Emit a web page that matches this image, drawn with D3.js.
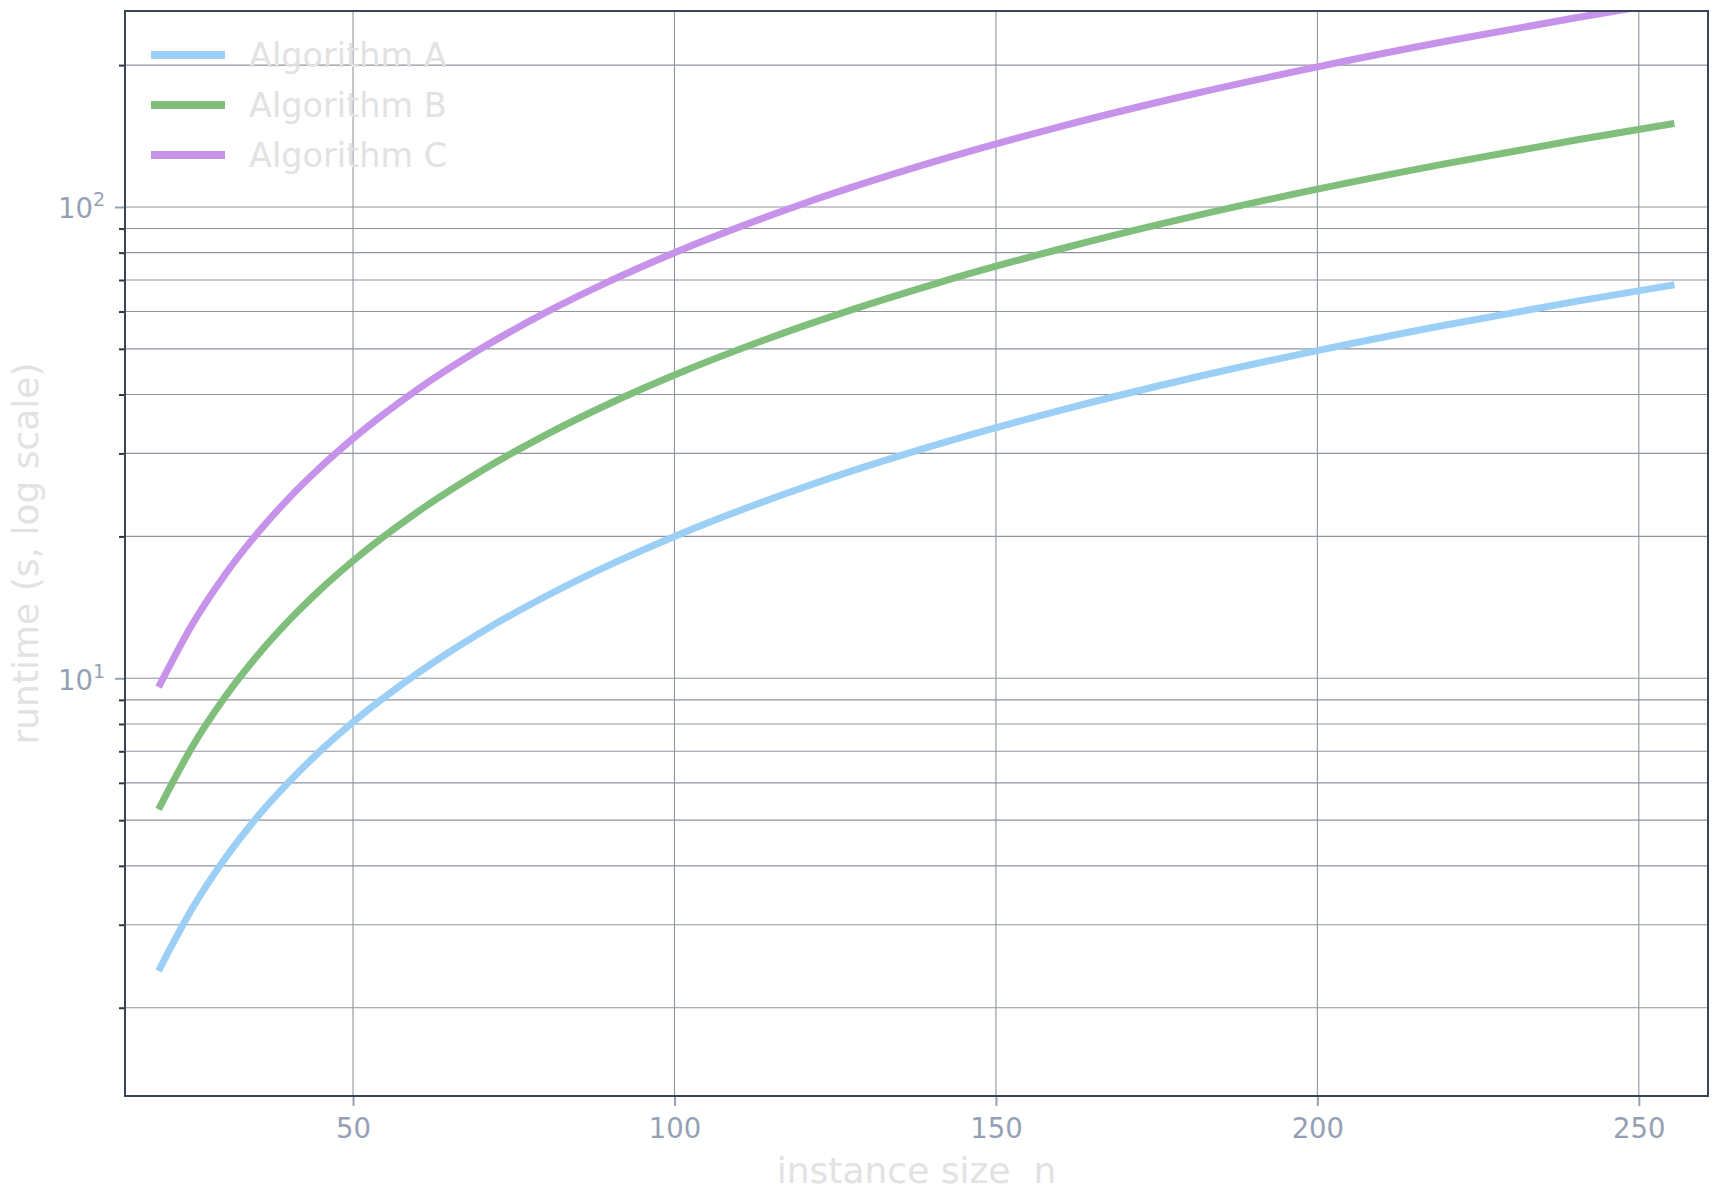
<!DOCTYPE html>
<html>
<head>
<meta charset="utf-8">
<script src="https://cdn.jsdelivr.net/npm/d3@7"></script>
<style>
  body { margin: 0; background: #fff; }
  svg { display: block; }
  svg text { font-family: "DejaVu Sans", sans-serif; }
</style>
</head>
<body>
<div id="chart"></div>
<script>
// values
const sizes = [20, 25, 30, 35, 40, 45, 50, 60, 70, 80, 90, 100, 120, 140, 160, 180, 200, 220, 240, 255];
const algoA = [2.43, 3.25, 4.13, 5.06, 6.02, 7.03, 8.07, 10.24, 12.54, 14.93, 17.42, 20.0, 25.40, 31.08, 37.02, 43.20, 49.58, 56.18, 62.96, 68.18];
const algoB = [5.35, 7.16, 9.09, 11.12, 13.25, 15.46, 17.75, 22.53, 27.58, 32.85, 38.33, 44.0, 55.87, 68.38, 81.44, 95.04, 109.1, 123.6, 138.5, 150.0];
const algoC = [9.72, 13.02, 16.53, 20.22, 24.09, 28.10, 32.26, 40.97, 50.14, 59.73, 69.69, 80.0, 101.6, 124.3, 148.1, 172.8, 198.3, 224.7, 251.8, 272.7];
const seriesNames = ['Algorithm A', 'Algorithm B', 'Algorithm C'];
const seriesColors = ['#9ccff5', '#7fbf7b', '#c792ea'];
const xTicks = [50, 100, 150, 200, 250];
const yMajor = [10, 100];
const yMinor = [2, 3, 4, 5, 6, 7, 8, 9, 20, 30, 40, 50, 60, 70, 80, 90, 200];

const W = 1720, H = 1201;
const margin = {top: 11, right: 12, bottom: 105, left: 125};
const width = W - margin.left - margin.right;
const height = H - margin.top - margin.bottom;

const svg = d3.select('#chart').append('svg')
    .attr('width', W)
    .attr('height', H);

const chart = svg.append('g')
    .attr('transform', `translate(${margin.left},${margin.top})`);

const x = d3.scaleLinear().domain([14.53, 260.76]).range([0, width]);
const y = d3.scaleLog().domain([1.2993, 260.5]).range([height, 0]);

// grid
chart.append('g').selectAll('line')
    .data(yMajor.concat(yMinor))
    .join('line')
    .attr('x1', 0).attr('x2', width)
    .attr('y1', d => y(d)).attr('y2', d => y(d))
    .attr('stroke', '#8d949e').attr('stroke-width', 1.1);

chart.append('g').selectAll('line')
    .data(xTicks)
    .join('line')
    .attr('x1', d => x(d)).attr('x2', d => x(d))
    .attr('y1', 0).attr('y2', height)
    .attr('stroke', '#8d949e').attr('stroke-width', 1.1);

// lines
chart.append('clipPath').attr('id', 'clip')
    .append('rect').attr('width', width).attr('height', height);

const series = [algoA, algoB, algoC];
const line = d3.line()
    .x((d, i) => x(sizes[i]))
    .y(d => y(d))
    .curve(d3.curveMonotoneX);

chart.append('g').attr('clip-path', 'url(#clip)')
    .selectAll('path')
    .data(series)
    .join('path')
    .attr('d', d => line(d))
    .attr('fill', 'none')
    .attr('stroke', (d, i) => seriesColors[i])
    .attr('stroke-width', 7)
    .attr('stroke-linecap', 'square');

// axes
const xAxis = chart.append('g')
    .attr('transform', `translate(0,${height})`)
    .call(d3.axisBottom(x).tickValues(xTicks).tickSize(10).tickFormat(d3.format('d')));
xAxis.select('.domain').remove();
xAxis.selectAll('line').attr('stroke', '#94a0b4').attr('stroke-width', 2);
xAxis.selectAll('text').attr('fill', '#94a0b4').style('font-size', '27.5px')
    .attr('dy', null).attr('y', 42);

const yMinorAxis = chart.append('g')
    .call(d3.axisLeft(y).tickValues(yMinor).tickSize(6).tickFormat(''));
yMinorAxis.select('.domain').remove();
yMinorAxis.selectAll('line').attr('stroke', '#2e3646').attr('stroke-width', 2);

const yAxis = chart.append('g')
    .call(d3.axisLeft(y).tickValues(yMajor).tickSize(10).tickFormat(''));
yAxis.select('.domain').remove();
yAxis.selectAll('line').attr('stroke', '#94a0b4').attr('stroke-width', 2);
yAxis.selectAll('.tick').each(function(d) {
    const t = d3.select(this).append('text')
        .attr('x', -20)
        .attr('y', 11)
        .attr('text-anchor', 'end')
        .attr('fill', '#94a0b4')
        .style('font-size', '27.5px');
    t.append('tspan').text('10');
    t.append('tspan').attr('dy', -12).style('font-size', '19px').text(Math.round(Math.log10(d)));
});

// frame
chart.append('rect')
    .attr('width', width).attr('height', height)
    .attr('fill', 'none')
    .attr('stroke', '#3b4558')
    .attr('stroke-width', 2);

// axis titles
svg.append('text')
    .attr('x', margin.left + width / 2)
    .attr('y', 1183)
    .attr('text-anchor', 'middle')
    .attr('fill', '#e2e2e2')
    .style('font-size', '36px')
    .style('white-space', 'pre')
    .text('instance size  n');

svg.append('text')
    .attr('transform', `translate(38,${margin.top + height / 2}) rotate(-90)`)
    .attr('text-anchor', 'middle')
    .attr('fill', '#e2e2e2')
    .style('font-size', '36px')
    .text('runtime (s, log scale)');

// legend
const legend = svg.append('g').attr('transform', 'translate(151,55)');
seriesNames.forEach((name, i) => {
    const g = legend.append('g').attr('transform', `translate(0,${i * 50})`);
    g.append('line')
        .attr('x1', 0).attr('x2', 74)
        .attr('stroke', seriesColors[i])
        .attr('stroke-width', 8);
    g.append('text')
        .attr('x', 98).attr('y', 12)
        .attr('fill', '#e2e2e2')
        .style('font-size', '33.5px')
        .text(name);
});
</script>
</body>
</html>
